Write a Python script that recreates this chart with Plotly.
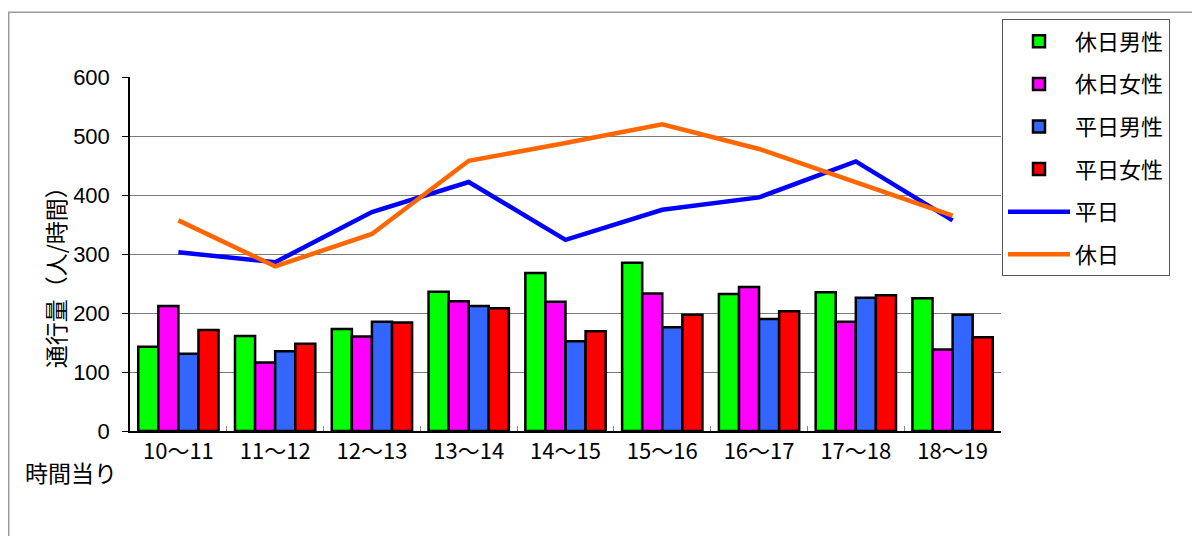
import plotly.graph_objects as go

categories = ["10～11", "11～12", "12～13", "13～14", "14～15", "15～16", "16～17", "17～18", "18～19"]
holiday_male = [143, 161, 173, 236, 268, 285, 232, 235, 225]
holiday_female = [212, 116, 160, 220, 219, 233, 244, 185, 138]
weekday_male = [131, 135, 185, 212, 152, 176, 190, 226, 197]
weekday_female = [171, 148, 184, 208, 169, 197, 203, 230, 159]
weekday_total = [303, 286, 371, 422, 324, 375, 396, 457, 357]
holiday_total = [357, 279, 334, 458, 488, 520, 478, 421, 365]
y_ticks = [0, 100, 200, 300, 400, 500, 600]

jp_font = "Noto Sans CJK JP"
num_font = "Liberation Sans"

fig = go.Figure()

bar_series = [
    ("休日男性", holiday_male, "#00FF00"),
    ("休日女性", holiday_female, "#FF00FF"),
    ("平日男性", weekday_male, "#3366FF"),
    ("平日女性", weekday_female, "#FF0000"),
]
for i, (name, vals, col) in enumerate(bar_series):
    fig.add_trace(go.Bar(
        x=categories, y=vals, name=name,
        marker=dict(color=col, line=dict(color="black", width=2.5)),
        legendgroup=f"g{i}",
    ))

line_series = [
    ("平日", weekday_total, "#0000FF"),
    ("休日", holiday_total, "#FF6600"),
]
for j, (name, vals, col) in enumerate(line_series):
    fig.add_trace(go.Scatter(
        x=categories, y=vals, name=name, mode="lines",
        line=dict(color=col, width=4.5),
        legendgroup=f"l{j}",
    ))

# page body has an 8px margin, so the figure is drawn at (8, 8)
W, H = 1192, 528
L, R, T, B = 122, 199, 66, 105
pw = W - L - R
ph = H - T - B

def px_x(x):
    return (x - 8 - L) / pw

def px_y(y):
    return (H - B - (y - 8)) / ph

fig.update_layout(
    width=W, height=H,
    margin=dict(l=L, r=R, t=T, b=B),
    paper_bgcolor="white", plot_bgcolor="white",
    barmode="group", bargap=0.17, bargroupgap=0,
    showlegend=True,
    legend=dict(
        x=px_x(1002), y=px_y(16), xanchor="left", yanchor="top",
        bordercolor="#555555", borderwidth=1, bgcolor="white",
        font=dict(family=jp_font, size=22, color="black"),
        traceorder="grouped", tracegroupgap=11,
        itemwidth=62,
    ),
    xaxis=dict(
        type="category", showline=True, linecolor="black", linewidth=1.5,
        ticks="inside", ticklen=5, tickcolor="#888888", tickson="boundaries",
        tickfont=dict(family=jp_font, size=22, color="black"),
        showgrid=False,
    ),
    yaxis=dict(
        range=[0, 600], tickvals=y_ticks, ticktext=[str(v) for v in y_ticks],
        showline=True, linecolor="black", linewidth=1.5,
        ticks="outside", ticklen=6, tickcolor="black",
        tickfont=dict(family=num_font, size=22, color="black"),
        ticklabelstandoff=8,
        showgrid=True, gridcolor="#7a7a7a", gridwidth=1,
        zeroline=False,
    ),
    annotations=[
        dict(text="通行量（人/時間）", xref="paper", yref="paper",
             x=px_x(55), y=px_y(271), xanchor="center", yanchor="middle",
             textangle=-90, showarrow=False,
             font=dict(family=jp_font, size=23, color="black")),
        dict(text="時間当り", xref="paper", yref="paper",
             x=px_x(71), y=px_y(472), xanchor="center", yanchor="middle",
             showarrow=False,
             font=dict(family=jp_font, size=23, color="black")),
    ],
    shapes=[
        dict(type="rect", xref="paper", yref="paper",
             x0=px_x(8.7), x1=px_x(1300), y0=px_y(700), y1=px_y(8.7),
             line=dict(color="#999999", width=1.5), fillcolor="rgba(0,0,0,0)",
             layer="below"),
    ],
)

fig.write_html("out.html")
